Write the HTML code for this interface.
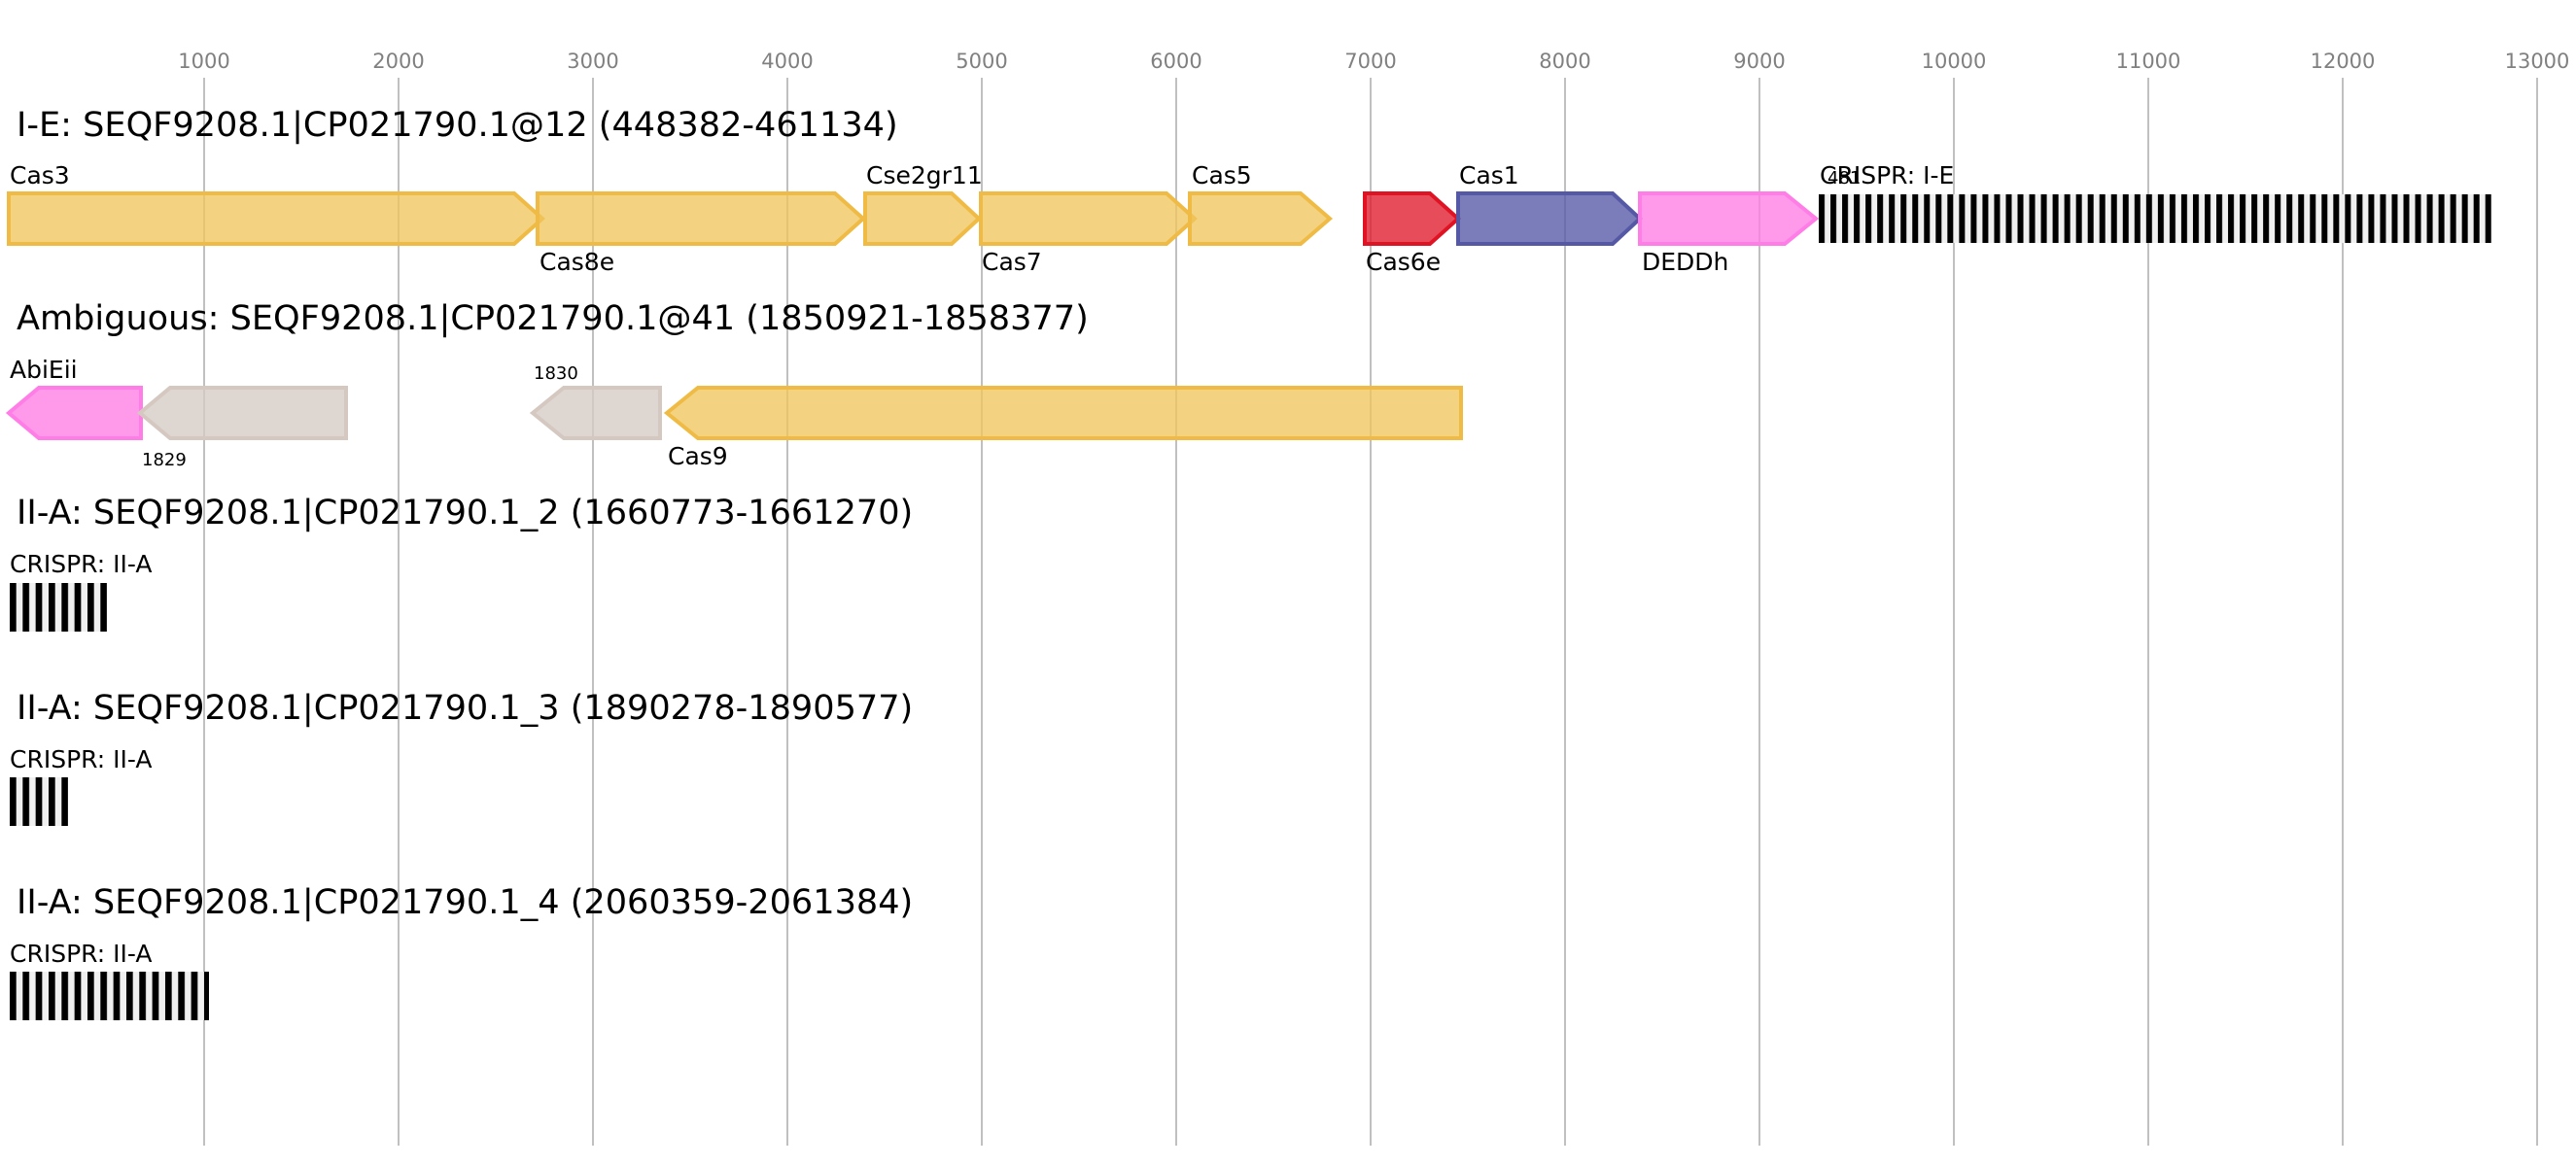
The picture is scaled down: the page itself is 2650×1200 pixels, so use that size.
<!DOCTYPE html>
<html><head><meta charset="utf-8"><style>
html,body{margin:0;padding:0;background:#fff;}
svg{display:block;}
text{font-family:"DejaVu Sans","Liberation Sans",sans-serif;}
</style></head><body>
<svg width="2650" height="1200" viewBox="0 0 2650 1200" xmlns="http://www.w3.org/2000/svg">
<defs>
<pattern id="cr" x="1871" y="0" width="12.03" height="50" patternUnits="userSpaceOnUse">
<rect x="0" y="0" width="12.03" height="50" fill="#f0f0f0"/><rect x="0" y="0" width="6" height="50" fill="#000"/>
</pattern>
<pattern id="cr2" x="10" y="0" width="13.33" height="50" patternUnits="userSpaceOnUse">
<rect x="0" y="0" width="13.33" height="50" fill="#f0f0f0"/><rect x="0" y="0" width="6.7" height="50" fill="#000"/>
</pattern>
</defs>
<g stroke="#c0c0c0" stroke-width="2">
<line x1="210" y1="80" x2="210" y2="1179"/><line x1="410" y1="80" x2="410" y2="1179"/><line x1="610" y1="80" x2="610" y2="1179"/><line x1="810" y1="80" x2="810" y2="1179"/><line x1="1010" y1="80" x2="1010" y2="1179"/><line x1="1210" y1="80" x2="1210" y2="1179"/><line x1="1410" y1="80" x2="1410" y2="1179"/><line x1="1610" y1="80" x2="1610" y2="1179"/><line x1="1810" y1="80" x2="1810" y2="1179"/><line x1="2010" y1="80" x2="2010" y2="1179"/><line x1="2210" y1="80" x2="2210" y2="1179"/><line x1="2410" y1="80" x2="2410" y2="1179"/><line x1="2610" y1="80" x2="2610" y2="1179"/>
</g>
<g fill="#808080" font-size="21" text-anchor="middle">
<text x="210" y="70">1000</text><text x="410" y="70">2000</text><text x="610" y="70">3000</text><text x="810" y="70">4000</text><text x="1010" y="70">5000</text><text x="1210" y="70">6000</text><text x="1410" y="70">7000</text><text x="1610" y="70">8000</text><text x="1810" y="70">9000</text><text x="2010" y="70">10000</text><text x="2210" y="70">11000</text><text x="2410" y="70">12000</text><text x="2610" y="70">13000</text>
</g>
<g font-size="35.1" fill="#000">
<text x="17" y="140">I-E: SEQF9208.1|CP021790.1@12 (448382-461134)</text>
<text x="17" y="339">Ambiguous: SEQF9208.1|CP021790.1@41 (1850921-1858377)</text>
<text x="17" y="539">II-A: SEQF9208.1|CP021790.1_2 (1660773-1661270)</text>
<text x="17" y="740">II-A: SEQF9208.1|CP021790.1_3 (1890278-1890577)</text>
<text x="17" y="940">II-A: SEQF9208.1|CP021790.1_4 (2060359-2061384)</text>
</g>
<g stroke-width="4" fill-opacity="0.78">
<g fill="#f0c55e" stroke="#efbb45">
<polygon points="9,199 529,199 558,225 529,251 9,251"/>
<polygon points="553,199 859,199 888,225 859,251 553,251"/>
<polygon points="890,199 979,199 1007,225 979,251 890,251"/>
<polygon points="1009,199 1200,199 1229,225 1200,251 1009,251"/>
<polygon points="1224,199 1338,199 1368,225 1338,251 1224,251"/>
<polygon points="686,425 718,399 1503,399 1503,451 718,451"/>
</g>
<polygon points="1404,199 1471,199 1500,225 1471,251 1404,251" fill="#e01a2b" stroke="#e01325"/>
<polygon points="1500,199 1659,199 1687,225 1659,251 1500,251" fill="#5558a5" stroke="#5558a5"/>
<polygon points="1687,199 1836,199 1868,225 1836,251 1687,251" fill="#ff7de6" stroke="#ff7de6"/>
<polygon points="9,425 40,399 145,399 145,451 40,451" fill="#ff7de6" stroke="#ff7de6"/>
<g fill="#d5cbc4" stroke="#d5c8c0">
<polygon points="144,425 175,399 356,399 356,451 175,451"/>
<polygon points="548,425 580,399 679,399 679,451 580,451"/>
</g>
</g>
<rect x="1871" y="200" width="692" height="50" fill="url(#cr)"/>
<rect x="10" y="600" width="100" height="50" fill="url(#cr2)"/>
<rect x="10" y="800" width="60" height="50" fill="url(#cr2)"/>
<rect x="10" y="1000" width="205" height="50" fill="url(#cr2)"/>
<g font-size="25" fill="#000">
<text x="10" y="189">Cas3</text><text x="555" y="278">Cas8e</text><text x="891" y="189">Cse2gr11</text><text x="1010" y="278">Cas7</text><text x="1226" y="189">Cas5</text><text x="1405" y="278">Cas6e</text><text x="1501" y="189">Cas1</text><text x="1689" y="278">DEDDh</text><text x="1872" y="189">CRISPR: I-E</text>
<text x="10" y="389">AbiEii</text><text x="687" y="478">Cas9</text>
<text x="10" y="589">CRISPR: II-A</text><text x="10" y="790">CRISPR: II-A</text><text x="10" y="990">CRISPR: II-A</text>
</g>
<g font-size="18" fill="#000">
<text x="1880" y="189">481</text><text x="146" y="479">1829</text><text x="549" y="390">1830</text>
</g>
</svg>
</body></html>
